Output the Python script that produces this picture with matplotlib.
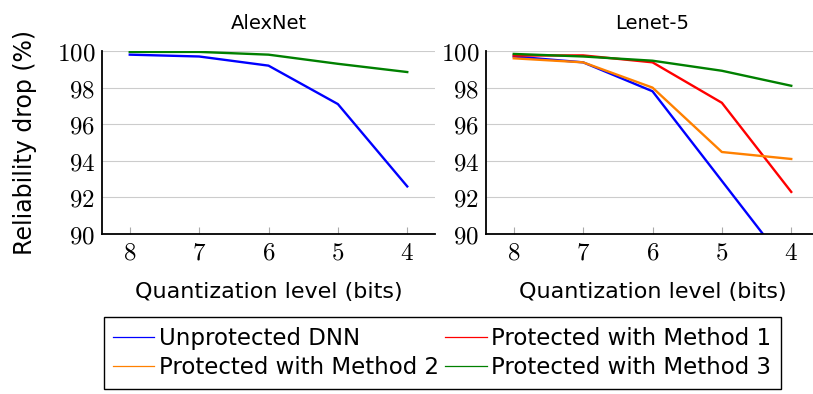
import matplotlib
matplotlib.use('Agg')
import matplotlib.pyplot as plt
from matplotlib.ticker import FuncFormatter

plt.rcParams['mathtext.fontset'] = 'cm'
plt.rcParams['font.family'] = 'DejaVu Sans'

bits = [8, 7, 6, 5, 4]
yticks = [90, 92, 94, 96, 98, 100]

# AlexNet
alex_unprot = [99.8, 99.7, 99.2, 97.1, 92.6]
alex_m3 = [99.95, 99.95, 99.8, 99.3, 98.85]

# Lenet-5
lenet_unprot = [99.7, 99.38, 97.8, 92.9, 88.0]
lenet_m1 = [99.75, 99.76, 99.38, 97.17, 92.3]
lenet_m2 = [99.6, 99.38, 98.0, 94.48, 94.1]
lenet_m3 = [99.84, 99.7, 99.47, 98.92, 98.1]

labels = ['Unprotected DNN', 'Protected with Method 1',
          'Protected with Method 2', 'Protected with Method 3']
colors = ['#0000ff', '#ff0000', '#ff8000', '#008000']

fig = plt.figure(figsize=(8.13, 3.94), dpi=100)
W, H = 813, 394
ax1 = fig.add_axes([102 / W, (H - 234) / H, 333 / W, 183 / H])
ax2 = fig.add_axes([486 / W, (H - 234) / H, 333 / W, 183 / H])

ax1.plot(bits, alex_unprot, color=colors[0], lw=1.7)
ax1.plot(bits, alex_m3, color=colors[3], lw=1.7)

ax2.plot(bits, lenet_unprot, color=colors[0], lw=1.7)
ax2.plot(bits, lenet_m1, color=colors[1], lw=1.7)
ax2.plot(bits, lenet_m2, color=colors[2], lw=1.7)
ax2.plot(bits, lenet_m3, color=colors[3], lw=1.7)

fmt = FuncFormatter(lambda v, p: r'$%d$' % v)
for ax, title in [(ax1, 'AlexNet'), (ax2, 'Lenet-5')]:
    ax.set_xlim(8.4, 3.6)
    ax.set_ylim(90, 100)
    ax.set_xticks(bits)
    ax.set_yticks(yticks)
    ax.xaxis.set_major_formatter(fmt)
    ax.yaxis.set_major_formatter(fmt)
    ax.tick_params(axis='x', direction='in', length=5, color='#aaaaaa',
                   labelsize=18, pad=5)
    ax.tick_params(axis='y', length=0, labelsize=18, pad=5)
    ax.grid(axis='y', color='#cccccc', lw=0.8)
    ax.set_axisbelow(True)
    for s in ['top', 'right']:
        ax.spines[s].set_visible(False)
    for s in ['left', 'bottom']:
        ax.spines[s].set_linewidth(1.3)
    ax.set_title(title, fontsize=14, pad=16)
    ax.set_xlabel('Quantization level (bits)', fontsize=16, labelpad=12)

ax1.set_ylabel('Reliability drop (%)', fontsize=17, labelpad=14)

handles = [plt.Line2D([], [], color=c, lw=0.9) for c in colors]
# order so rows are: unprot / m1, m2 / m3
order = [0, 2, 1, 3]
fig.legend([handles[i] for i in order], [labels[i] for i in order],
           ncol=2, loc='center', bbox_to_anchor=(442 / W, (H - 353) / H),
           fontsize=16.5, frameon=True, fancybox=False, edgecolor='black',
           framealpha=1, handlelength=1.8, handletextpad=0.2,
           columnspacing=0.3, borderpad=0.4, labelspacing=0.3)

fig.savefig('out.png', dpi=100)
